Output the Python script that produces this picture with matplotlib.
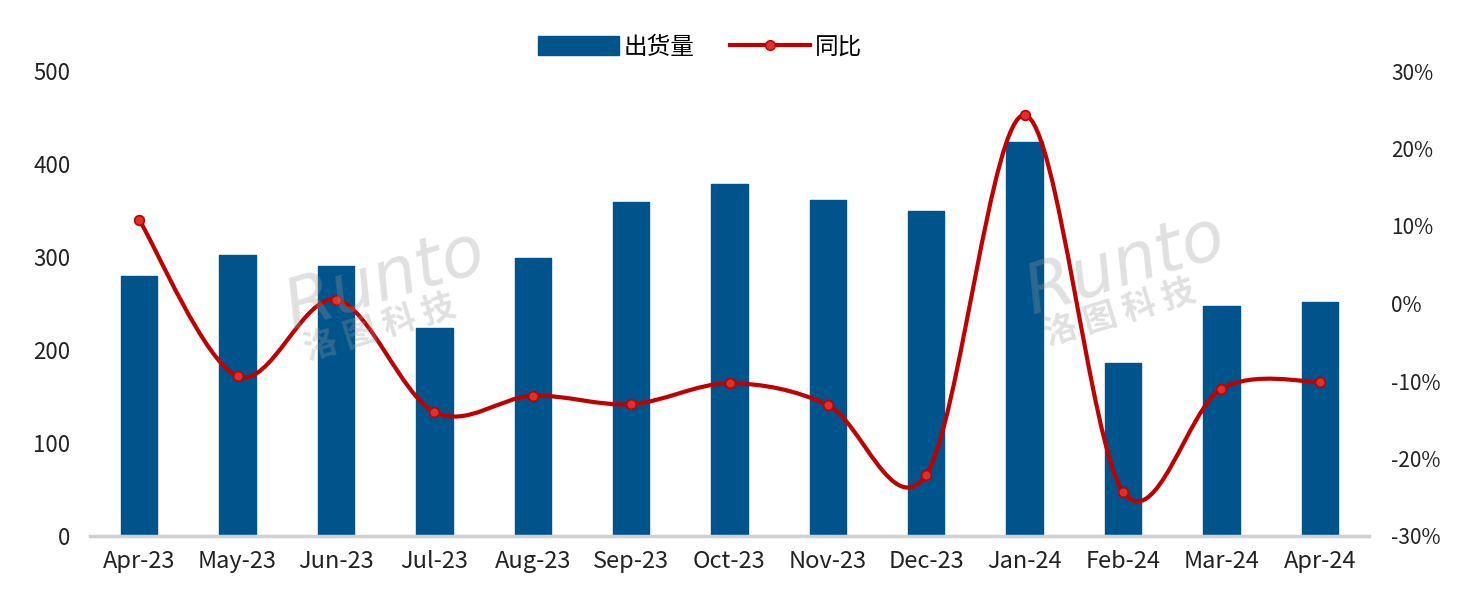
import numpy as np
import matplotlib
matplotlib.use("Agg")
import matplotlib.pyplot as plt
from matplotlib.path import Path
from matplotlib.patches import PathPatch, Patch
from matplotlib.lines import Line2D
from matplotlib.ticker import FuncFormatter

plt.rcParams['font.family'] = ['Noto Sans CJK SC', 'DejaVu Sans']

# data
months = ['Apr-23', 'May-23', 'Jun-23', 'Jul-23', 'Aug-23', 'Sep-23', 'Oct-23',
          'Nov-23', 'Dec-23', 'Jan-24', 'Feb-24', 'Mar-24', 'Apr-24']
shipments = [280, 302, 290, 224, 299, 359, 378, 361, 349, 424, 186, 247, 252]
yoy = [10.8, -9.4, 0.5, -14.0, -11.9, -13.0, -10.3, -13.1, -22.1, 24.3, -24.3, -11.0, -10.1]

barColor = '#00548C'
lineColor = '#C00000'

fig = plt.figure(figsize=(14.8, 5.98), dpi=100)
ax = fig.add_axes([90 / 1480, 62 / 598, 1279 / 1480, 465 / 598])
x = np.arange(len(months))

ax.bar(x, shipments, width=0.37, color=barColor, edgecolor=barColor,
       linewidth=1, joinstyle='round', zorder=2)
ax.set_xlim(-0.5, len(months) - 0.5)
ax.set_ylim(0, 500)
ax.set_yticks(range(0, 501, 100))
ax.set_xticks(x)
ax.set_xticklabels(months, fontsize=17)
ax.tick_params(axis='both', length=0, labelsize=16, colors='#222222')
ax.tick_params(axis='x', pad=10, labelsize=17)
ax.tick_params(axis='y', pad=14)
for s in ['top', 'right', 'left']:
    ax.spines[s].set_visible(False)
ax.spines['bottom'].set_color('#D0D0D0')
ax.spines['bottom'].set_linewidth(2.5)
ax.spines['bottom'].set_zorder(3)

ax2 = ax.twinx()
ax2.set_ylim(-30, 30)
ax2.set_yticks(range(-30, 31, 10))
ax2.yaxis.set_major_formatter(FuncFormatter(lambda v, p: '%d%%' % v))
ax2.tick_params(axis='y', length=0, labelsize=15, colors='#222222', pad=16)
for s in ['top', 'right', 'left', 'bottom']:
    ax2.spines[s].set_visible(False)

# smooth line like excel (catmull-rom as bezier segments)
pts = np.column_stack([x, yoy]).astype(float)
ext = np.vstack([pts[0], pts, pts[-1]])
verts = [tuple(pts[0])]
codes = [Path.MOVETO]
for i in range(len(pts) - 1):
    p0, p1, p2, p3 = ext[i], ext[i + 1], ext[i + 2], ext[i + 3]
    c1 = p1 + (p2 - p0) / 6.0
    c2 = p2 - (p3 - p1) / 6.0
    verts += [tuple(c1), tuple(c2), tuple(p2)]
    codes += [Path.CURVE4] * 3
ax2.add_patch(PathPatch(Path(verts, codes), facecolor='none', edgecolor=lineColor,
                        linewidth=3, zorder=4))
ax2.plot(x, yoy, linestyle='none', marker='o', markersize=7,
         markerfacecolor='#E0302A', markeredgecolor=lineColor, markeredgewidth=1.2, zorder=5)

# watermark
for cx, cy in [(385, 280), (1125, 265)]:
    fig.text(cx / 1480, 1 - cy / 598, 'Runto', fontsize=50, style='italic',
             color='#999999', alpha=0.3, rotation=17, ha='center', va='center',
             family='DejaVu Sans', zorder=10)
    fig.text((cx - 5) / 1480, 1 - (cy + 48) / 598, '洛 图 科 技', fontsize=24,
             color='#999999', alpha=0.3, rotation=17, ha='center', va='center',
             fontweight='bold', zorder=10)

handles = [Patch(facecolor=barColor, edgecolor=barColor),
           Line2D([0], [0], color=lineColor, linewidth=3, marker='o', markersize=7,
                  markerfacecolor='#E0302A', markeredgecolor=lineColor)]
fig.legend(handles, ['出货量', '同比'], loc='center', bbox_to_anchor=(700 / 1480, 1 - 47 / 598),
           ncol=2, frameon=False, fontsize=17, handlelength=3.4, handleheight=0.9,
           columnspacing=1.5, handletextpad=0.2)

fig.savefig('out.png', dpi=100)
